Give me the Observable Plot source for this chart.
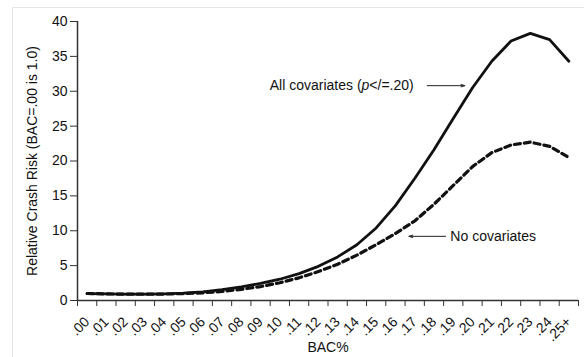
<!DOCTYPE html>
<html>
<head>
<meta charset="utf-8">
<script src="https://cdn.jsdelivr.net/npm/d3@7"></script>
<script src="https://cdn.jsdelivr.net/npm/@observablehq/plot@0.6"></script>
<style>
  html, body { margin: 0; padding: 0; background: #fff; }
  #wrap { position: relative; width: 584px; height: 357px; overflow: hidden; }
  #border { position: absolute; left: 12px; top: 7px; width: 600px; height: 400px;
            border-left: 1px solid #e6e6e6; border-top: 1px solid #e6e6e6; pointer-events: none; }
  svg { display: block; }
</style>
</head>
<body>
<div id="wrap"><div id="border"></div></div>
<script>
const categories = [".00",".01",".02",".03",".04",".05",".06",".07",".08",".09",".10",".11",".12",
  ".13",".14",".15",".16",".17",".18",".19",".20",".21",".22",".23",".24",".25+"];
const allCovariates = [1.0,0.95,0.9,0.9,0.95,1.05,1.25,1.55,1.95,2.45,3.05,3.85,4.9,6.25,8.0,10.4,
  13.6,17.5,21.6,26.1,30.5,34.3,37.2,38.3,37.4,34.3];
const noCovariates = [1.0,0.95,0.9,0.9,0.92,1.0,1.1,1.3,1.6,2.0,2.55,3.25,4.15,5.2,6.5,8.0,
  9.6,11.4,13.8,16.5,19.2,21.2,22.3,22.7,22.1,20.5];
const yTicks = [0,5,10,15,20,25,30,35,40];

const labelAll = "All covariates (p</=.20)";
const labelNone = "No covariates";
// annotation anchors in data units (x = category index, y = relative risk)
const arrowAll = [{x1: 18.15, x2: 20.1, y: 30.8}];
const arrowNone = [{x1: 19.1, x2: 17.2, y: 9.2}];
const textAll = [{x: 17.45, y: 30.8, t: labelAll}];
const textNone = [{x: 19.35, y: 9.2, t: labelNone}];

const table = categories.map((c, i) => ({pos: i + 0.5, cat: c, all: allCovariates[i], none: noCovariates[i]}));

const chart = Plot.plot({
  width: 584, height: 357,
  marginLeft: 77, marginRight: 6, marginTop: 21, marginBottom: 57,
  x: {domain: [0, categories.length], axis: null},
  y: {domain: [0, 40], axis: null},
  style: {fontFamily: "'Liberation Sans', Arial, sans-serif", fontSize: "14px", color: "#111", background: "transparent"},
  marks: [
    Plot.axisY({ticks: yTicks, tickSize: 7, tickPadding: 3, stroke: "#333", fontSize: 14,
      label: "Relative Crash Risk (BAC=.00 is 1.0)", labelAnchor: "center", labelArrow: "none", labelOffset: 50}),
    Plot.axisX({ticks: d3.range(categories.length + 1), tickSize: 6, tickFormat: () => "", label: null, stroke: "#333"}),
    Plot.axisX({ticks: table.map(d => d.pos), tickFormat: d => categories[Math.floor(d)], tickSize: 0,
      tickRotate: -45, tickPadding: 19, label: null, fontSize: 14}),
    Plot.ruleX([0], {stroke: "#333", strokeWidth: 1.5}),
    Plot.ruleY([0], {stroke: "#333", strokeWidth: 1.5}),
    Plot.line(table, {x: "pos", y: "none", stroke: "#111", strokeWidth: 3.2, strokeDasharray: "6,4"}),
    Plot.line(table, {x: "pos", y: "all", stroke: "#111", strokeWidth: 2.8}),
    Plot.arrow(arrowAll, {x1: "x1", x2: "x2", y1: "y", y2: "y", stroke: "#222", strokeWidth: 1, headLength: 6, headAngle: 35}),
    Plot.arrow(arrowNone, {x1: "x1", x2: "x2", y1: "y", y2: "y", stroke: "#222", strokeWidth: 1, headLength: 6, headAngle: 35}),
    Plot.text(textAll, {x: "x", y: "y", text: "t", textAnchor: "end", fill: "#111", fontSize: 14}),
    Plot.text(textNone, {x: "x", y: "y", text: "t", textAnchor: "start", fill: "#111", fontSize: 14}),
    Plot.text(["BAC%"], {frameAnchor: "bottom", dy: 51, fill: "#111", fontSize: 14})
  ]
});

// italicize the "p" in the annotation
d3.select(chart).selectAll("text").filter(function() { return this.textContent === labelAll; })
  .each(function() {
    const t = d3.select(this);
    t.text("");
    t.append("tspan").text("All covariates (");
    t.append("tspan").attr("font-style", "italic").text("p");
    t.append("tspan").text("</=.20)");
  });

document.getElementById("wrap").prepend(chart);
</script>
</body>
</html>
